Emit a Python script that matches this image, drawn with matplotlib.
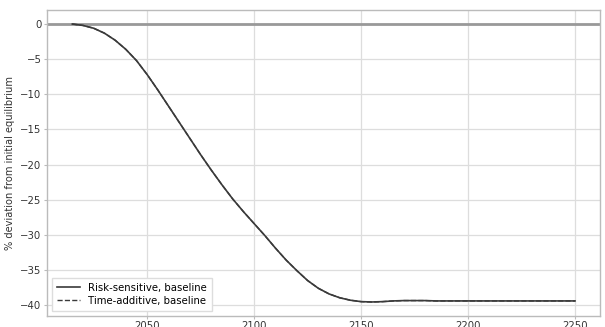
import numpy as np
import matplotlib
matplotlib.use("Agg")
import matplotlib.pyplot as plt

# years and % deviation from initial equilibrium
years = list(range(2015, 2255, 5))
risk_sensitive = [0.0, -0.2, -0.6, -1.3, -2.3, -3.6, -5.2, -7.2, -9.4, -11.7,
                  -14.0, -16.3, -18.6, -20.8, -22.9, -24.9, -26.7, -28.4, -30.1, -31.9,
                  -33.6, -35.1, -36.5, -37.6, -38.4, -38.95, -39.3, -39.5, -39.55, -39.5,
                  -39.4, -39.35, -39.35, -39.35, -39.4, -39.4, -39.4, -39.4, -39.4, -39.4,
                  -39.4, -39.4, -39.4, -39.4, -39.4, -39.4, -39.4, -39.4]
time_additive = [0.0, -0.2, -0.6, -1.3, -2.3, -3.6, -5.2, -7.2, -9.4, -11.7,
                 -14.0, -16.3, -18.6, -20.8, -22.9, -24.9, -26.7, -28.4, -30.1, -31.9,
                 -33.6, -35.1, -36.5, -37.6, -38.4, -38.95, -39.3, -39.5, -39.55, -39.5,
                 -39.4, -39.35, -39.35, -39.35, -39.4, -39.4, -39.4, -39.4, -39.4, -39.4,
                 -39.4, -39.4, -39.4, -39.4, -39.4, -39.4, -39.4, -39.4]

fig = plt.figure(figsize=(6.05, 3.27), dpi=100)
ax = fig.add_axes([0.078, 0.034, 0.914, 0.935])

ax.axhline(0, color="#999999", lw=2, zorder=1)
ax.plot(years, risk_sensitive, color="#3a3a3a", lw=1.2, ls="-", label="Risk-sensitive, baseline", zorder=3)
ax.plot(years, time_additive, color="#3a3a3a", lw=1.0, ls="--", label="Time-additive, baseline", zorder=4)

ax.set_xticks([2050, 2100, 2150, 2200, 2250])
ax.set_yticks(np.arange(-40, 1, 5))
ax.grid(True, color="#dddddd", lw=0.9)
ax.set_axisbelow(True)
for s in ax.spines.values():
    s.set_color("#bbbbbb")
    s.set_linewidth(1.0)
ax.tick_params(length=2, width=0.8, pad=2, labelsize=7.3, color="#bbbbbb", labelcolor="#333333")
ax.set_ylabel("% deviation from initial equilibrium", fontsize=7.1, color="#333333", labelpad=4)

ax.legend(loc="lower left", fontsize=7.3, frameon=True, framealpha=1,
          edgecolor="#dddddd", handlelength=2.2, borderpad=0.5, labelspacing=0.3,
          fancybox=False)

fig.savefig("out.png", dpi=100)
